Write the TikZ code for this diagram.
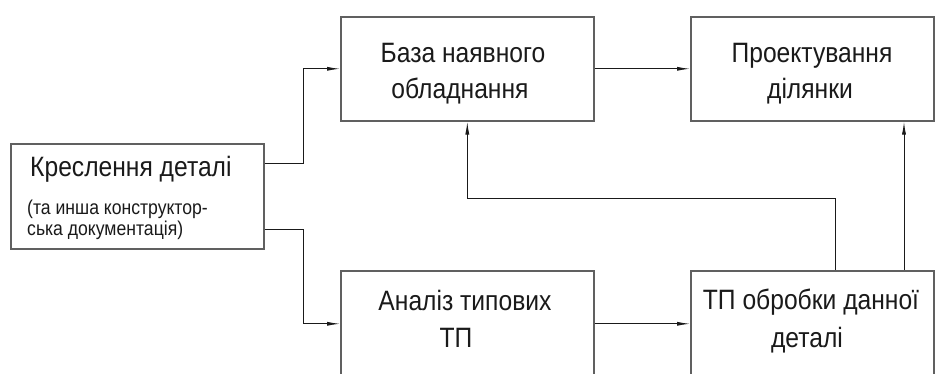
\documentclass[tikz,border=0pt]{standalone}
\usepackage{fontspec}
\setmainfont{Liberation Sans}[FakeStretch=0.88]
\usetikzlibrary{arrows.meta,calc}
\definecolor{boxgray}{HTML}{606060}
\definecolor{ink}{HTML}{1A1A1A}
\tikzset{
  box/.style={draw=boxgray,line width=1.6pt,inner sep=0pt,anchor=north west},
  conn/.style={draw=ink,line width=0.9pt,-{Latex[length=13pt,width=4pt]}},
  big/.style={font=\fontsize{28}{30}\selectfont,text=ink,inner sep=0pt,anchor=base},
  small/.style={font=\fontsize{20}{22}\selectfont,text=ink,inner sep=0pt,anchor=base west}
}
\begin{document}
\begin{tikzpicture}[x=1pt,y=-1pt]
\clip (0,0) rectangle (935,374);
\fill[white] (0,0) rectangle (935,374);
% boxes
\node[box,minimum width=253pt,minimum height=105pt] (kres) at (10,143) {};
\node[box,minimum width=253pt,minimum height=104pt] (base) at (340,16) {};
\node[box,minimum width=243pt,minimum height=104pt] (proj) at (690,16) {};
\node[box,minimum width=253pt,minimum height=106pt] (anal) at (340,270) {};
\node[box,minimum width=243pt,minimum height=106pt] (tp) at (690,270) {};
% texts
\node[big,anchor=base west] (k1) at (30,177) {Креслення деталі};
\node[small] (k2) at (27,215) {(та инша конструктор-};
\node[small] (k3) at (27,236) {ська документація)};
\node[big] (b1) at (463,63) {База наявного};
\node[big] (b2) at (460,99) {обладнання};
\node[big] (p1) at (812,63) {Проектування};
\node[big] (p2) at (810,99) {ділянки};
\node[big] (a1) at (465,310) {Аналіз типових};
\node[big] (a2) at (456,348) {ТП};
\node[big] (t1) at (811,309) {ТП обробки данної};
\node[big] (t2) at (807,347) {деталі};
% connectors
\draw[conn] ($(kres.north east)+(0,20)$) -- ++(39,0) |- (base.west);
\draw[conn] ($(kres.south east)+(0,-20)$) -- ++(39,0) |- (anal.west);
\draw[conn] (base.east) -- (proj.west);
\draw[conn] (anal.east) -- (tp.west);
\draw[conn] ($(tp.north west)+(145,0)$) |- ($(base.south)+(0,77)$) -- (base.south);
\draw[conn] ($(tp.north west)+(214,0)$) -- ($(proj.south west)+(214,0)$);
\end{tikzpicture}
\end{document}
